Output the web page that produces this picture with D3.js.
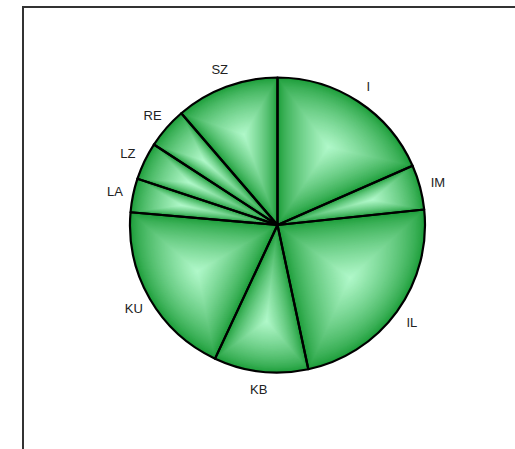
<!DOCTYPE html>
<html>
<head>
<meta charset="utf-8">
<script src="https://cdn.jsdelivr.net/npm/d3@7"></script>
<style>
  html, body { margin: 0; padding: 0; background: #fff; }
  svg { display: block; }
</style>
</head>
<body>
<script>
// Data (clockwise from 12 o'clock)
const categories = ["I", "IM", "IL", "KB", "KU", "LA", "LZ", "RE", "SZ"];
const values = [18.4, 4.9, 23.3, 10.3, 19.4, 3.7, 4.1, 4.5, 11.3];

const W = 515, H = 449;
const cx = 277.5, cy = 225, R = 147.5, labelR = 166;
const darkColor = "#1a9c37", lightColor = "#b2f9cb";

const svg = d3.select("body").append("svg").attr("width", W).attr("height", H);

// frame
svg.append("rect")
  .attr("x", 23).attr("y", 7)
  .attr("width", 600).attr("height", 600)
  .attr("fill", "none").attr("stroke", "#333").attr("stroke-width", 2);

const data = categories.map((c, i) => ({ name: c, value: values[i] }));
const pie = d3.pie().value(d => d.value).sort(null);
const arcs = pie(data);
const arc = d3.arc().innerRadius(0).outerRadius(R);
const labelArc = d3.arc().innerRadius(labelR).outerRadius(labelR);

const defs = svg.append("defs");

const N = 60;
const interp = d3.interpolateRgb(darkColor, lightColor);

arcs.forEach((a, i) => {
  const clipId = "clip" + i;
  defs.append("clipPath").attr("id", clipId)
    .append("path").attr("d", arc(a)).attr("transform", `translate(${cx},${cy})`);
  // path-gradient center: sector centroid
  const half = (a.endAngle - a.startAngle) / 2;
  const mid = (a.startAngle + a.endAngle) / 2;
  const dist = half > 0 ? (2 * R * Math.sin(half)) / (3 * half) : R * 2 / 3;
  const px = dist * Math.sin(mid), py = -dist * Math.cos(mid);
  const sg = svg.append("g").attr("clip-path", `url(#${clipId})`)
    .append("g").attr("transform", `translate(${cx},${cy})`);
  for (let k = 0; k < N; k++) {
    const s = 1 - k / N;
    const t = Math.pow(k / N, 0.75);
    sg.append("path")
      .attr("d", arc(a))
      .attr("transform", `translate(${px},${py}) scale(${s}) translate(${-px},${-py})`)
      .attr("fill", interp(t));
  }
});

const g = svg.append("g").attr("transform", `translate(${cx},${cy})`);

// outlines
g.selectAll("path.outline").data(arcs).enter().append("path")
  .attr("class", "outline")
  .attr("d", arc)
  .attr("fill", "none")
  .attr("stroke", "#000")
  .attr("stroke-width", 2.2)
  .attr("stroke-linejoin", "round");

// labels
g.selectAll("text.lbl").data(arcs).enter().append("text")
  .attr("class", "lbl")
  .attr("transform", d => `translate(${labelArc.centroid(d)})`)
  .attr("text-anchor", "middle")
  .attr("dominant-baseline", "central")
  .attr("font-family", "Liberation Sans, Arial, sans-serif")
  .attr("font-size", 13)
  .attr("fill", "#222")
  .text(d => d.data.name);
</script>
</body>
</html>
